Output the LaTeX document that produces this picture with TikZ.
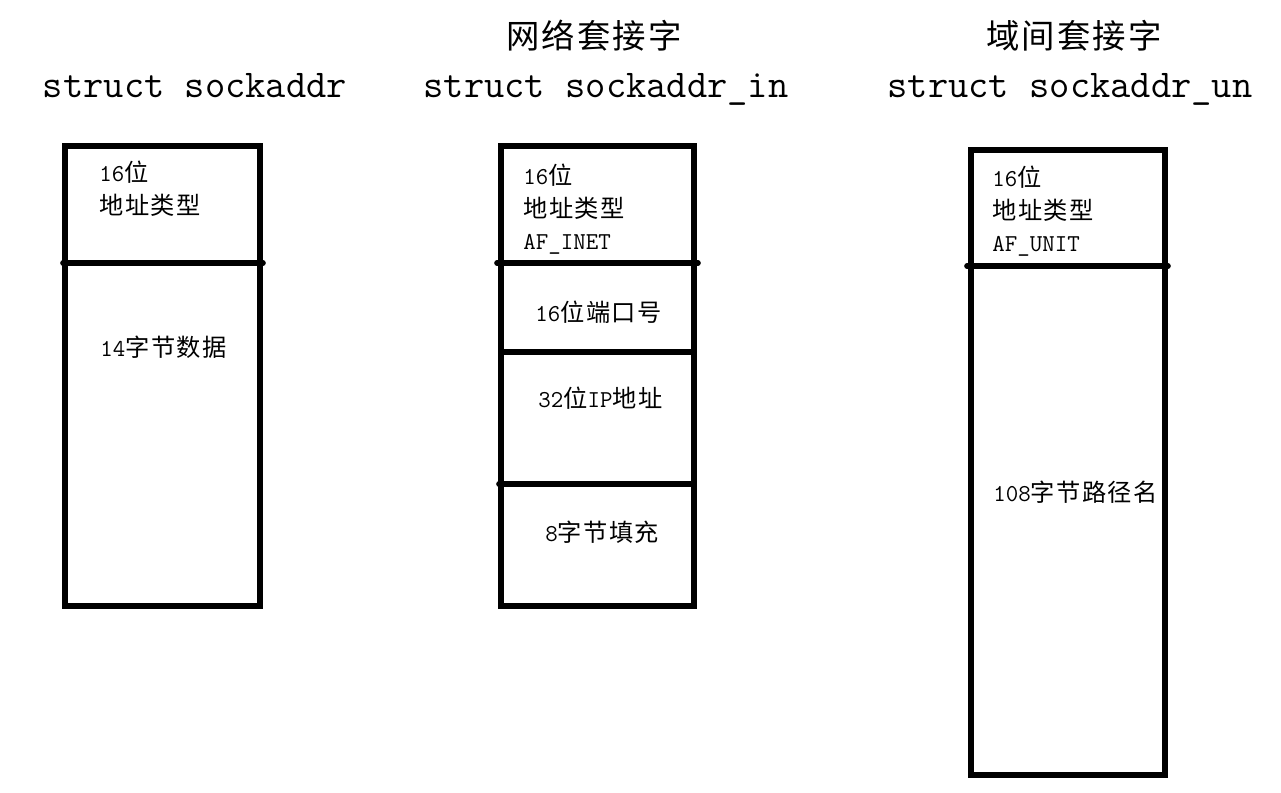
\documentclass[tikz,border=0pt]{standalone}
\usepackage{fontspec}
\newfontfamily\cjk[LetterSpace=6]{Noto Sans CJK SC}
\newcommand{\zh}[1]{{\cjk #1}}

\begin{document}
\begin{tikzpicture}[
  x=0.02cm, y=-0.02cm,
  frame/.style={draw=black, line width=3.2pt},
  bar/.style={frame, line cap=round},
  title/.style={font=\ttfamily\fontsize{22.4}{26}\selectfont, anchor=base, inner sep=0pt},
  zhtitle/.style={font=\cjk\fontsize{19}{22}\selectfont, anchor=base, inner sep=0pt},
  field/.style={font=\ttfamily\fontsize{13.8}{18.5}\selectfont, anchor=north west,
                align=left, inner sep=0pt}
]
\useasboundingbox (0,0) rectangle (1281,792);

% titles
\node[title] (t1) at (195,97) {struct sockaddr};
\node[zhtitle] (z2) at (594,48) {网络套接字};
\node[title] (t2) at (606,97) {struct sockaddr\_in};
\node[zhtitle] (z3) at (1074,48) {域间套接字};
\node[title] (t3) at (1070,97) {struct sockaddr\_un};

% struct sockaddr
\draw[frame] (65,146) rectangle (260,606);
\draw[bar] (63,263) -- (263,263);
\node[field] (a1) at (99,161) {16\zh{位}\\\zh{地址类型}};
\node[field] (a2) at (100,336) {14\zh{字节数据}};

% struct sockaddr_in
\draw[frame] (501,146) rectangle (694,606);
\draw[bar] (497,263) -- (698,263);
\draw[bar] (501,352) -- (694,352);
\draw[bar] (499,484) -- (694,484);
\node[field] (b1) at (523,164) {16\zh{位}\\\zh{地址类型}\\AF\_INET};
\node[field] (b2) at (535,301) {16\zh{位端口号}};
\node[field] (b3) at (538,387) {32\zh{位}IP\zh{地址}};
\node[field] (b4) at (545,521) {8\zh{字节填充}};

% struct sockaddr_un
\draw[frame] (971,150) rectangle (1165,775);
\draw[bar] (967,266) -- (1168,266);
\node[field] (c1) at (992,166) {16\zh{位}\\\zh{地址类型}\\AF\_UNIT};
\node[field] (c2) at (993,481) {108\zh{字节路径名}};
\end{tikzpicture}
\end{document}
